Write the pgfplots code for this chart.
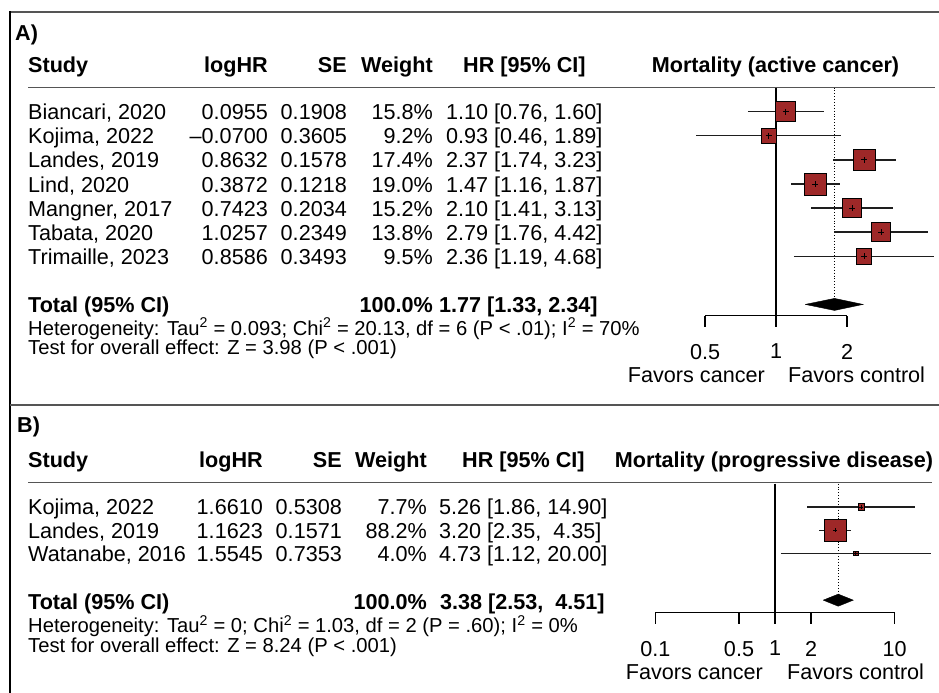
\documentclass[border=0pt]{standalone}
\usepackage{fontspec}
\setmainfont{Liberation Sans}
\usepackage{pgfplots}
\pgfplotsset{compat=1.18}
\usepackage{pgfplotstable}
\definecolor{sqred}{RGB}{158,40,40}
\definecolor{lgray}{RGB}{85,85,85}
\definecolor{cigray}{RGB}{30,30,30}
\newcommand\fs{\fontsize{21.6bp}{24bp}\selectfont}
\newcommand\fh{\fontsize{20.2bp}{22bp}\selectfont}

\pgfplotstableread{
hr lo hi w y
1.10 0.76 1.60 15.8 -1
0.93 0.46 1.89 9.2 -2
2.37 1.74 3.23 17.4 -3
1.47 1.16 1.87 19.0 -4
2.10 1.41 3.13 15.2 -5
2.79 1.76 4.42 13.8 -6
2.36 1.19 4.68 9.5 -7
}\dataA
\pgfplotstableread{
hr lo hi w y
5.26 1.86 14.90 7.7 -1
3.20 2.35 4.35 88.2 -2
4.73 1.12 20.00 4.0 -3
}\dataB

\tikzset{t/.style={inner sep=0pt, font=\fs},
 tb/.style={inner sep=0pt, font=\fs\bfseries},
 th/.style={inner sep=0pt, font=\fh},
 ci/.style={cigray, line width=1.4bp}}

\begin{document}
\begin{tikzpicture}
\begin{scope}[x=1bp,y=-1bp]
\path[use as bounding box] (0,0) rectangle (939,693);
\draw[lgray, line width=1.8bp] (10,12) -- (939,12);
\draw[black, line width=1.5bp] (10,11.1) -- (10,693);
\draw[lgray, line width=1.8bp] (10,405) -- (939,405);
\draw[lgray, line width=1.5bp] (28,87.5) -- (935,87.5);
\draw[lgray, line width=1.5bp] (28,482.5) -- (932,482.5);

% Panel A text
\node[tb, anchor=base west] at (15,40.7) {A)};
\node[tb, anchor=base west] at (28,72.7) {Study};
\node[tb, anchor=base east] at (268,72.7) {logHR};
\node[tb, anchor=base east] at (347,72.7) {SE};
\node[tb, anchor=base east] at (433,72.7) {Weight};
\node[tb, anchor=base west] at (463,72.7) {HR [95\% CI]};
\node[tb, anchor=base] at (775.5,72.7) {Mortality (active cancer)};

\foreach \yy/\st/\lh/\se/\wt/\hr in {
 119.7/{Biancari, 2020}/0.0955/0.1908/15.8/{1.10 [0.76, 1.60]},
 143.8/{Kojima, 2022}/–0.0700/0.3605/9.2/{0.93 [0.46, 1.89]},
 167.9/{Landes, 2019}/0.8632/0.1578/17.4/{2.37 [1.74, 3.23]},
 192.0/{Lind, 2020}/0.3872/0.1218/19.0/{1.47 [1.16, 1.87]},
 216.1/{Mangner, 2017}/0.7423/0.2034/15.2/{2.10 [1.41, 3.13]},
 240.2/{Tabata, 2020}/1.0257/0.2349/13.8/{2.79 [1.76, 4.42]},
 264.4/{Trimaille, 2023}/0.8586/0.3493/9.5/{2.36 [1.19, 4.68]}}{
 \node[t, anchor=base west] at (28,\yy) {\st};
 \node[t, anchor=base east] at (268,\yy) {\lh};
 \node[t, anchor=base east] at (347,\yy) {\se};
 \node[t, anchor=base east] at (433,\yy) {\wt\%};
 \node[t, anchor=base west] at (446,\yy) {\hr};
}
\node[tb, anchor=base west] at (28,312.7) {Total (95\% CI)};
\node[tb, anchor=base east] at (433,312.7) {100.0\%};
\node[tb, anchor=base west] at (439,312.7) {1.77 [1.33, 2.34]};
\node[th, anchor=base west] at (28,335.3) {Heterogeneity: Tau\textsuperscript{2} = 0.093; Chi\textsuperscript{2} = 20.13, df = 6 (P < .01); I\textsuperscript{2} = 70\%};
\node[th, anchor=base west] at (28,354.5) {Test for overall effect: Z = 3.98 (P < .001)};
\node[t, anchor=base east] at (765,382.7) {Favors cancer};
\node[t, anchor=base west] at (788,382.7) {Favors control};

% Panel B text
\node[tb, anchor=base west] at (17,432.7) {B)};
\node[tb, anchor=base west] at (28,467.7) {Study};
\node[tb, anchor=base east] at (263,467.7) {logHR};
\node[tb, anchor=base east] at (342,467.7) {SE};
\node[tb, anchor=base east] at (427,467.7) {Weight};
\node[tb, anchor=base west] at (462,467.7) {HR [95\% CI]};
\node[tb, anchor=base] at (774,467.7) {Mortality (progressive disease)};

\foreach \yy/\st/\lh/\se/\wt/\hr in {
 514.7/{Kojima, 2022}/1.6610/0.5308/7.7/{5.26 [1.86, 14.90]},
 538.0/{Landes, 2019}/1.1623/0.1571/88.2/{3.20 [2.35,\ \ 4.35]},
 561.3/{Watanabe, 2016}/1.5545/0.7353/4.0/{4.73 [1.12, 20.00]}}{
 \node[t, anchor=base west] at (28,\yy) {\st};
 \node[t, anchor=base east] at (263,\yy) {\lh};
 \node[t, anchor=base east] at (342,\yy) {\se};
 \node[t, anchor=base east] at (427,\yy) {\wt\%};
 \node[t, anchor=base west] at (439,\yy) {\hr};
}
\node[tb, anchor=base west] at (28,609.7) {Total (95\% CI)};
\node[tb, anchor=base east] at (427,609.7) {100.0\%};
\node[tb, anchor=base west] at (440,609.7) {3.38 [2.53,\ \ 4.51]};
\node[th, anchor=base west] at (28,632.5) {Heterogeneity: Tau\textsuperscript{2} = 0; Chi\textsuperscript{2} = 1.03, df = 2 (P = .60); I\textsuperscript{2} = 0\%};
\node[th, anchor=base west] at (28,652.5) {Test for overall effect: Z = 8.24 (P < .001)};
\node[t, anchor=base east] at (763,679.7) {Favors cancer};
\node[t, anchor=base west] at (787,679.7) {Favors control};
\end{scope}

% Panel A forest
\begin{axis}[scale only axis, xmode=log, log basis x=2, clip=false,
  axis x line*=bottom, axis y line=none, minor xtick={},
  xtick align=outside, major tick length=11bp,
  x axis line style={line width=1.1bp, black, -},
  tick style={line width=1.1bp, black},
  xticklabel style={font=\fs, yshift=-14bp},
  at={(705bp,-315.5bp)}, anchor=south west,
  width=142bp, height=228bp, xmin=0.5, xmax=2, ymin=-9.46, ymax=0,
  xtick={0.5,1,2}, xticklabels={0.5,1,2}]
\addplot[black, line width=1.1bp] coordinates {(1,0) (1,-9.46)};
\addplot[black, dotted, line width=0.9bp] coordinates {(1.77,0) (1.77,-8.75)};
\addplot[ci] coordinates {(0.76,-1) (1.60,-1)};
\addplot[ci] coordinates {(0.46,-2) (1.89,-2)};
\addplot[ci] coordinates {(1.74,-3) (3.23,-3)};
\addplot[ci] coordinates {(1.16,-4) (1.87,-4)};
\addplot[ci] coordinates {(1.41,-5) (3.13,-5)};
\addplot[ci] coordinates {(1.76,-6) (4.42,-6)};
\addplot[ci] coordinates {(1.19,-7) (4.68,-7)};
\addplot[scatter, only marks, mark=square*, line width=0.8bp,
  scatter/use mapped color={draw=black, fill=sqred},
  visualization depends on={2.525*sqrt(\thisrow{w}) \as \ms},
  scatter/@pre marker code/.append style={/tikz/mark size=\ms bp}]
  table[x=hr, y=y] {\dataA};
\addplot[only marks, mark=+, mark size=3bp, black, line width=0.7bp] table[x=hr, y=y] {\dataA};
\addplot[fill=black, draw=black] coordinates {(1.33,-9) (1.77,-8.75) (2.34,-9) (1.77,-9.25) (1.33,-9)};
\end{axis}

% Panel B forest
\begin{axis}[scale only axis, xmode=log, log basis x=2, clip=false,
  axis x line*=bottom, axis y line=none, minor xtick={},
  xtick align=outside, major tick length=11bp,
  x axis line style={line width=1.1bp, black, -},
  tick style={line width=1.1bp, black},
  xticklabel style={font=\fs, yshift=-14bp},
  at={(655.4bp,-612.5bp)}, anchor=south west,
  width=239.2bp, height=128.8bp, xmin=0.1, xmax=10, ymin=-5.53, ymax=0,
  xtick={0.1,0.5,1,2,10}, xticklabels={0.1,0.5,1,2,10}]
\addplot[black, line width=1.1bp] coordinates {(1,0) (1,-5.53)};
\addplot[black, dotted, line width=0.9bp] coordinates {(3.38,0) (3.38,-4.74)};
\addplot[ci] coordinates {(1.86,-1) (14.90,-1)};
\addplot[ci] coordinates {(2.35,-2) (4.35,-2)};
\addplot[ci] coordinates {(1.12,-3) (20.00,-3)};
\addplot[scatter, only marks, mark=square*, line width=0.9bp,
  scatter/use mapped color={draw=black, fill=sqred},
  visualization depends on={1.155*sqrt(\thisrow{w}) \as \ms},
  scatter/@pre marker code/.append style={/tikz/mark size=\ms bp}]
  table[x=hr, y=y] {\dataB};
\addplot[only marks, mark=+, mark size=2bp, black, line width=0.7bp] table[x=hr, y=y] {\dataB};
\addplot[fill=black, draw=black] coordinates {(2.53,-5) (3.38,-4.74) (4.51,-5) (3.38,-5.26) (2.53,-5)};
\end{axis}
\end{tikzpicture}
\end{document}
